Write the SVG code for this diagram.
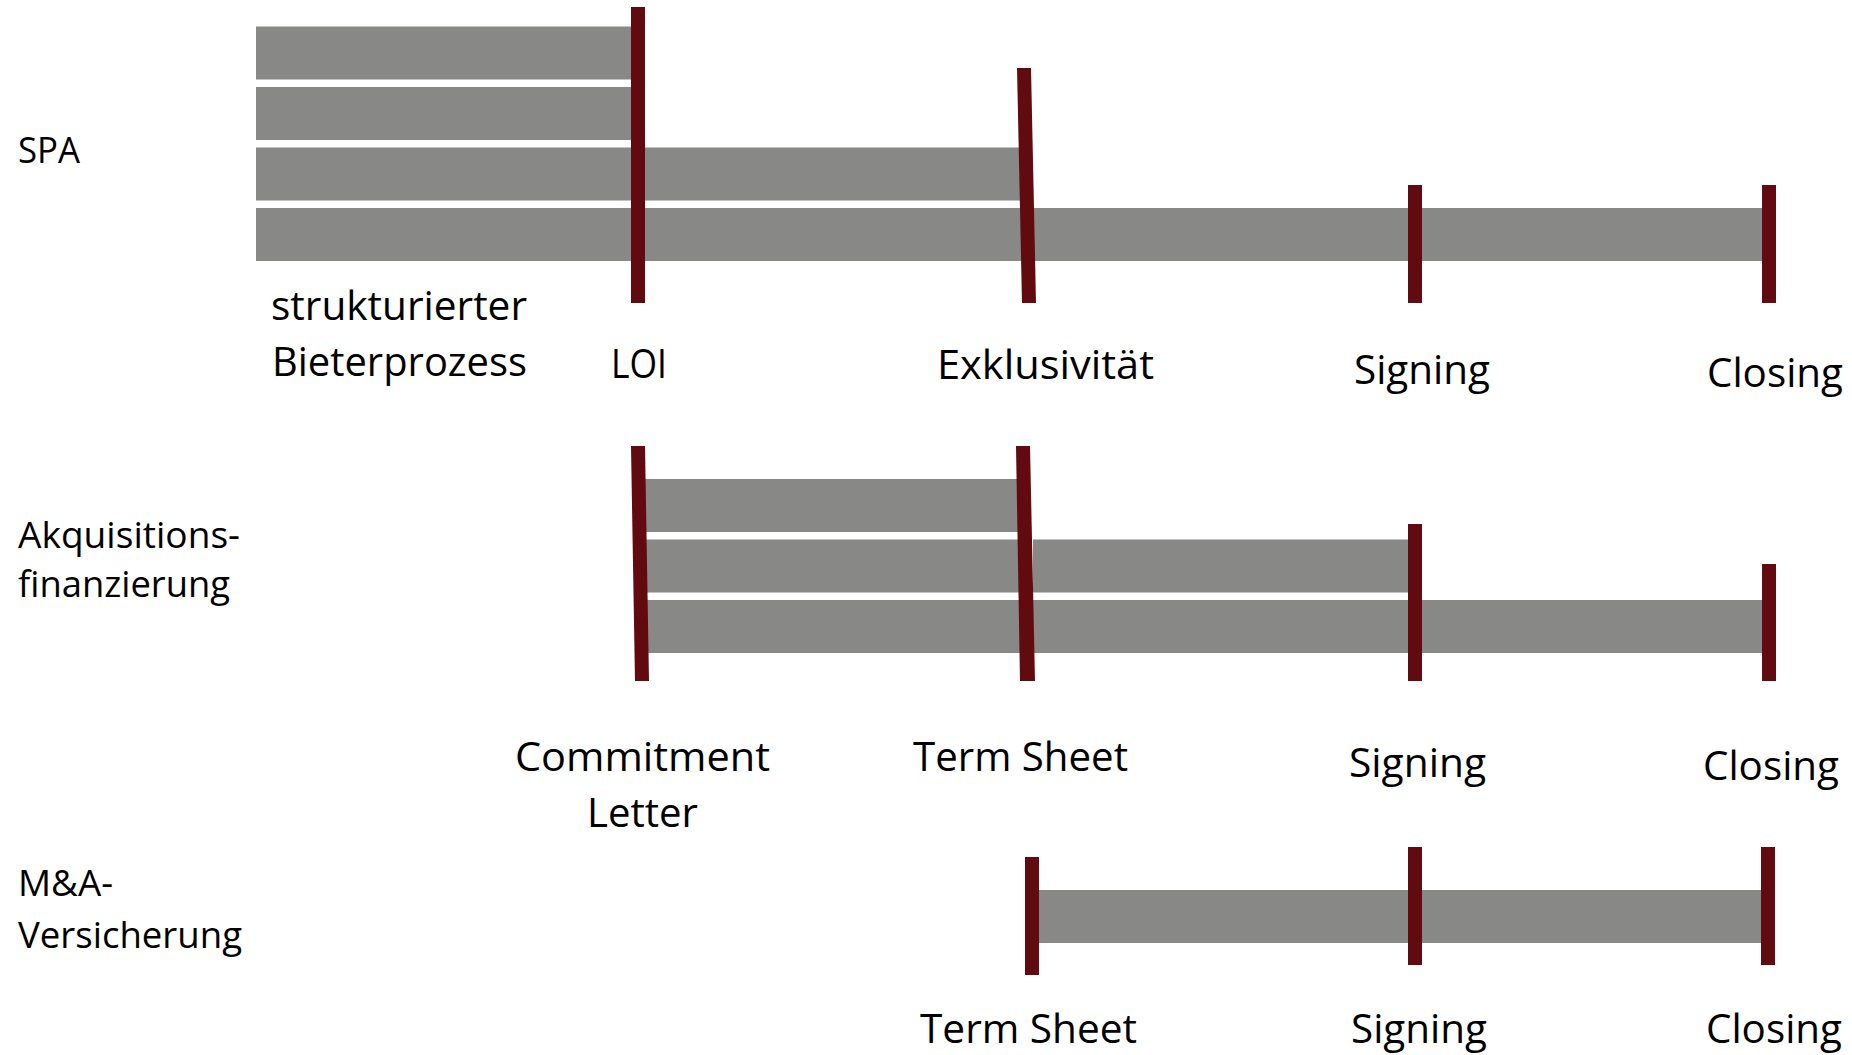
<svg xmlns="http://www.w3.org/2000/svg" width="1852" height="1055" viewBox="0 0 1852 1055">
<style>
  .bar { fill: #888887; }
  .ms { fill: #610a0f; }
  .row { font-family: "Open Sans", "Liberation Sans", sans-serif; font-size: 37px; fill: #000; }
  .lbl { font-family: "Open Sans", "Liberation Sans", sans-serif; font-size: 40px; fill: #000; }
</style>
<rect width="1852" height="1055" fill="#ffffff"/>

<g id="row-labels">
  <text class="row" x="18" y="163" textLength="62" lengthAdjust="spacingAndGlyphs">SPA</text>
  <text class="row" x="18" y="548" textLength="222" lengthAdjust="spacingAndGlyphs">Akquisitions-</text>
  <text class="row" x="18" y="597" textLength="212" lengthAdjust="spacingAndGlyphs">finanzierung</text>
  <text class="row" x="18" y="896" textLength="95" lengthAdjust="spacingAndGlyphs">M&amp;A-</text>
  <text class="row" x="18" y="948" textLength="224" lengthAdjust="spacingAndGlyphs">Versicherung</text>
</g>

<g id="spa-bars">
  <rect class="bar" x="256" y="26.5" width="382" height="53"/>
  <rect class="bar" x="256" y="87" width="382" height="53"/>
  <rect class="bar" x="256" y="147.5" width="768" height="53"/>
  <rect class="bar" x="256" y="208" width="1509" height="53"/>
</g>

<g id="finanzierung-bars">
  <rect class="bar" x="640" y="479" width="382" height="53"/>
  <rect class="bar" x="642" y="539.5" width="380" height="53"/>
  <rect class="bar" x="1033" y="539.5" width="382" height="53"/>
  <rect class="bar" x="644" y="600" width="1121" height="53"/>
</g>

<g id="versicherung-bars">
  <rect class="bar" x="1032" y="890" width="733" height="53"/>
</g>

<g id="connectors">
  <rect class="ms" x="631" y="7" width="14" height="296"/>
  <polygon class="ms" points="1017,68 1031,68 1036,303 1022,303"/>
  <rect class="ms" x="1408" y="185" width="14" height="118"/>
  <rect class="ms" x="1762" y="185" width="14" height="118"/>

  <polygon class="ms" points="631,446 645,446 649,681 635,681"/>
  <polygon class="ms" points="1016,446 1030,446 1035,681 1020,681"/>
  <rect class="ms" x="1408" y="524" width="14" height="157"/>
  <rect class="ms" x="1762" y="564" width="14" height="117"/>

  <rect class="ms" x="1025" y="857" width="14" height="118"/>
  <rect class="ms" x="1408" y="847" width="14" height="118"/>
  <rect class="ms" x="1761" y="847" width="14" height="118"/>
</g>

<g id="spa-labels">
  <text class="lbl" x="271" y="320" textLength="256" lengthAdjust="spacingAndGlyphs">strukturierter</text>
  <text class="lbl" x="272" y="376" textLength="255" lengthAdjust="spacingAndGlyphs">Bieterprozess</text>
  <text class="lbl" x="611" y="378" textLength="56" lengthAdjust="spacingAndGlyphs">LOI</text>
  <text class="lbl" x="937" y="379" textLength="217" lengthAdjust="spacingAndGlyphs">Exklusivität</text>
  <text class="lbl" x="1354" y="384" textLength="136" lengthAdjust="spacingAndGlyphs">Signing</text>
  <text class="lbl" x="1707" y="387" textLength="136" lengthAdjust="spacingAndGlyphs">Closing</text>
</g>

<g id="finanzierung-labels">
  <text class="lbl" x="515" y="771" textLength="255" lengthAdjust="spacingAndGlyphs">Commitment</text>
  <text class="lbl" x="587" y="827" textLength="111" lengthAdjust="spacingAndGlyphs">Letter</text>
  <text class="lbl" x="913" y="771" textLength="215" lengthAdjust="spacingAndGlyphs">Term Sheet</text>
  <text class="lbl" x="1349" y="777" textLength="137" lengthAdjust="spacingAndGlyphs">Signing</text>
  <text class="lbl" x="1703" y="780" textLength="136" lengthAdjust="spacingAndGlyphs">Closing</text>
</g>

<g id="versicherung-labels">
  <text class="lbl" x="920" y="1043" textLength="217" lengthAdjust="spacingAndGlyphs">Term Sheet</text>
  <text class="lbl" x="1351" y="1043" textLength="136" lengthAdjust="spacingAndGlyphs">Signing</text>
  <text class="lbl" x="1706" y="1043" textLength="136" lengthAdjust="spacingAndGlyphs">Closing</text>
</g>
</svg>
